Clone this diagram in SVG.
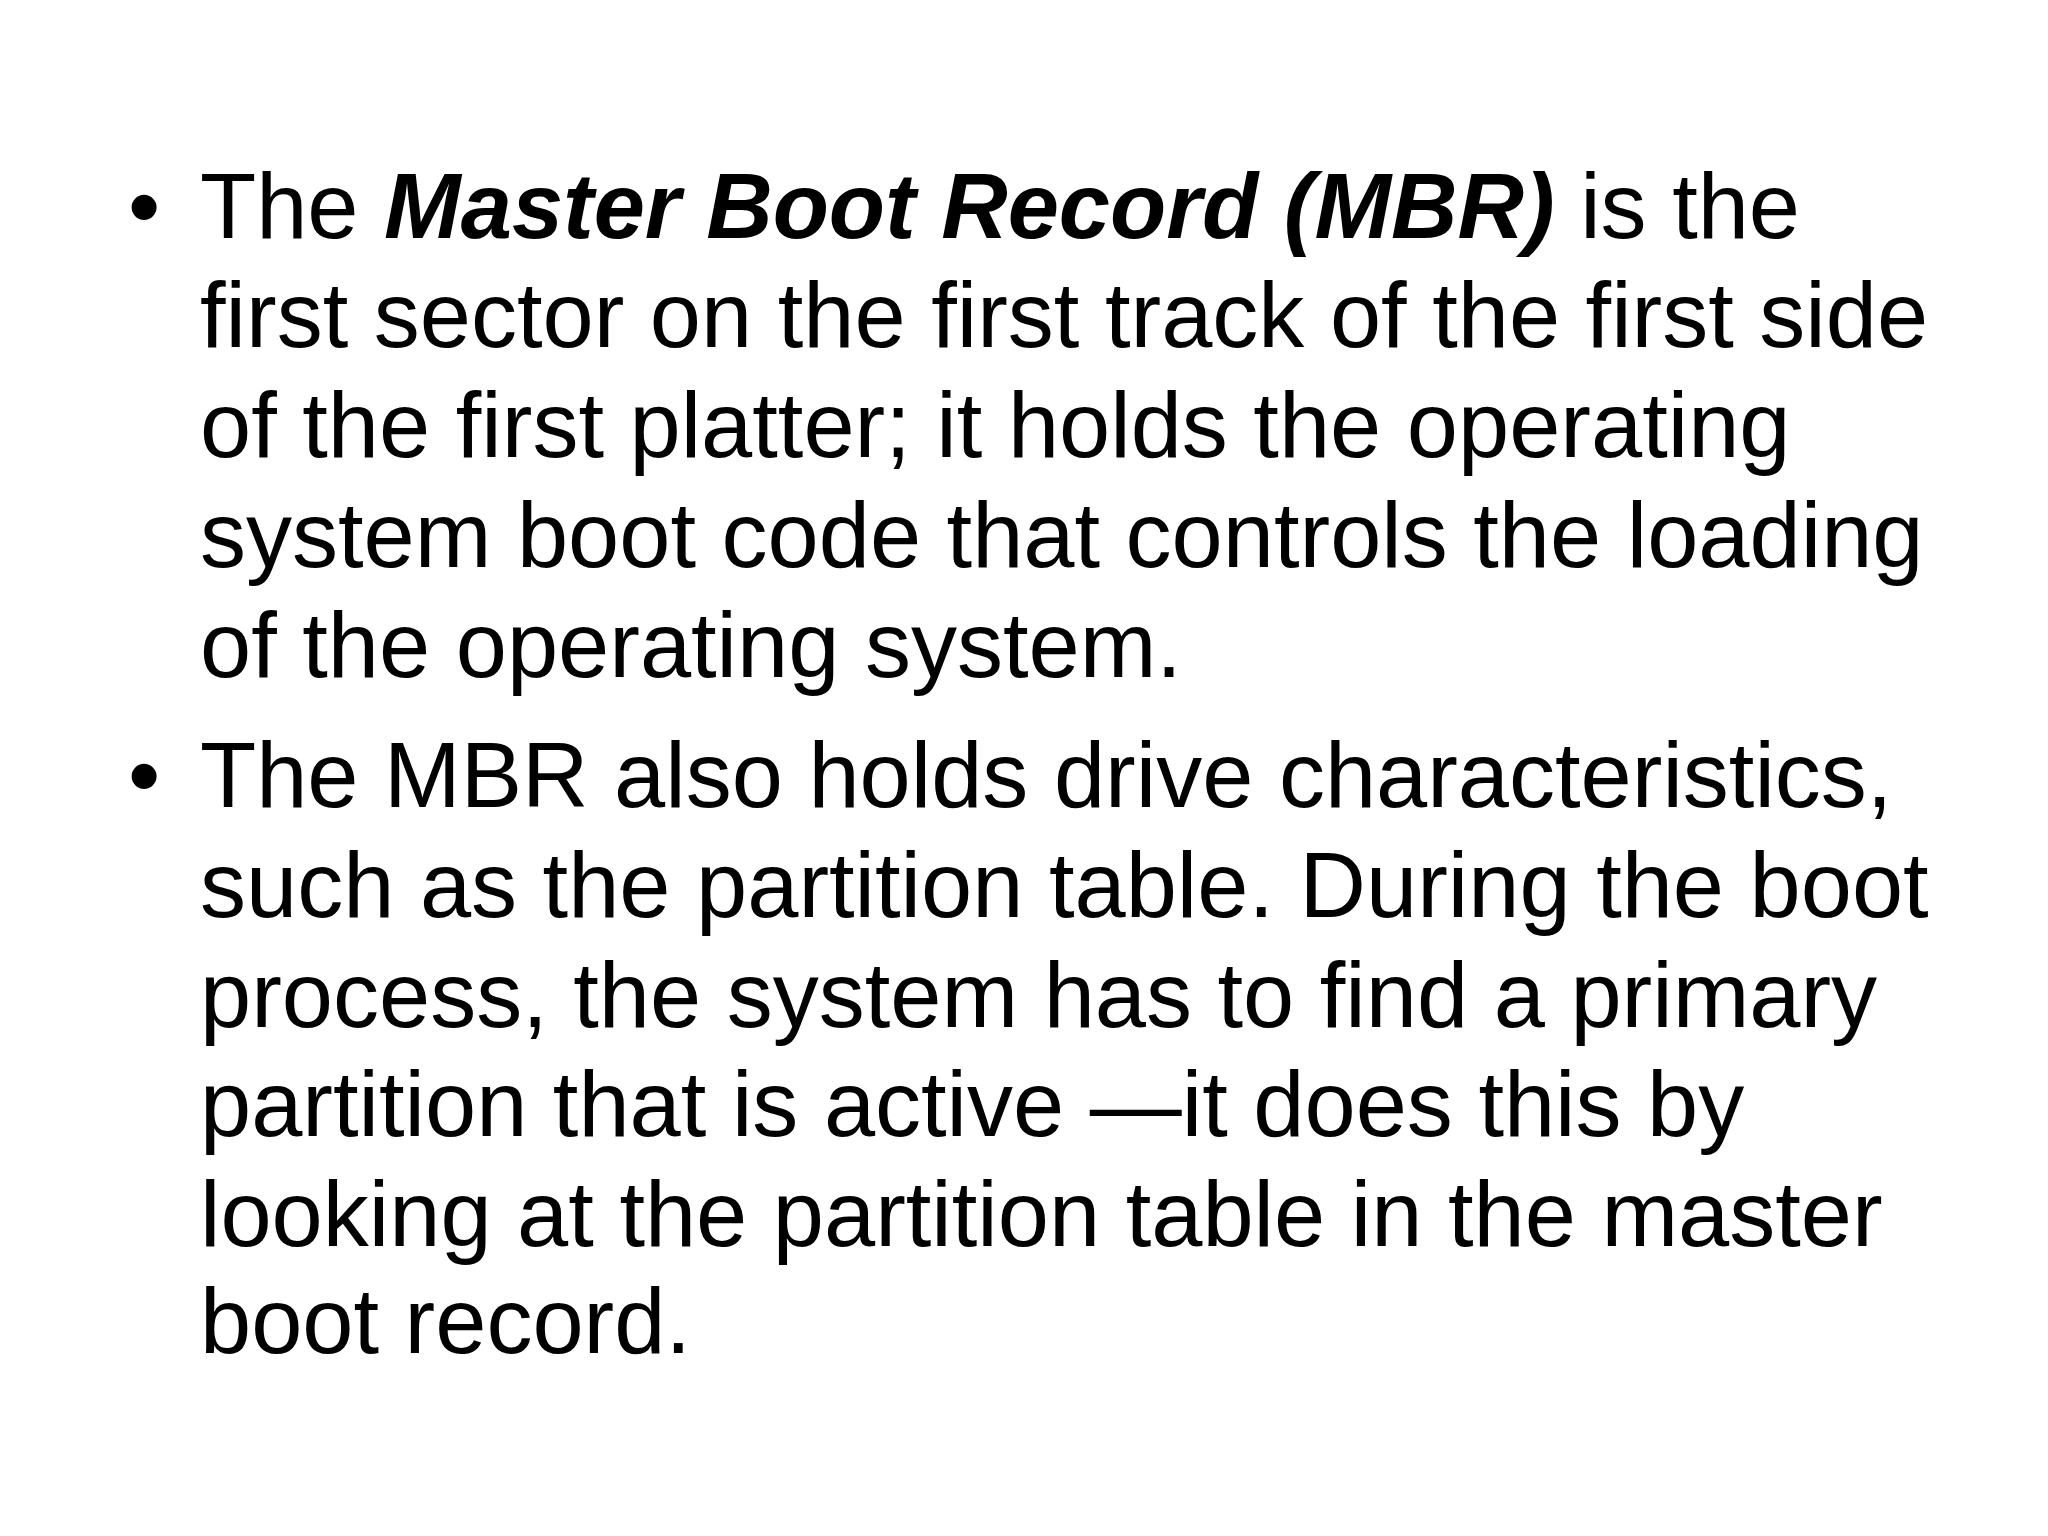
<svg xmlns="http://www.w3.org/2000/svg" width="2048" height="1536" viewBox="0 0 2048 1536">
<style>text{font-family:"Liberation Sans",Arial,sans-serif;font-size:92px;fill:#000}</style>
<rect width="2048" height="1536" fill="#fff"/>
<g id="bullet1">
<text x="128" y="238">•</text>
<text x="200" y="238">The <tspan font-weight="bold" font-style="italic">Master Boot Record (MBR)</tspan> is the</text>
<text x="200" y="347">first sector on the first track of the first side</text>
<text x="200" y="457">of the first platter; it holds the operating</text>
<text x="200" y="567">system boot code that controls the loading</text>
<text x="200" y="677">of the operating system.</text>
</g>
<g id="bullet2">
<text x="128" y="807">•</text>
<text x="200" y="807">The MBR also holds drive characteristics,</text>
<text x="200" y="917">such as the partition table. During the boot</text>
<text x="200" y="1027">process, the system has to find a primary</text>
<text x="200" y="1136">partition that is active —it does this by</text>
<text x="200" y="1246">looking at the partition table in the master</text>
<text x="200" y="1353">boot record.</text>
</g>
</svg>
